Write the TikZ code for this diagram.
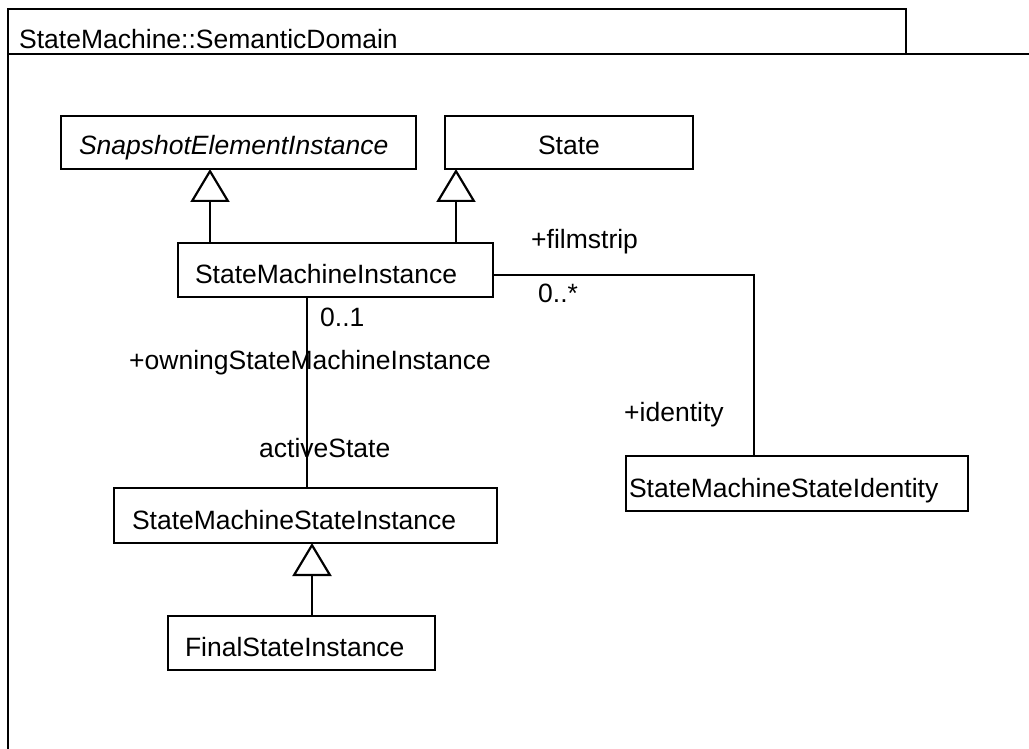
\documentclass[tikz,border=0pt]{standalone}
\usepackage{fontspec}
\setmainfont{Liberation Sans}
\usetikzlibrary{arrows.meta, positioning}
\newcommand{\umlfont}{\fontsize{26.5pt}{31pt}\selectfont}

\begin{document}
\begin{tikzpicture}[
    x=1pt, y=-1pt,
    umlbox/.style={draw, line width=2.8pt, outer sep=0pt, minimum height=54pt, inner xsep=17pt, inner ysep=0pt, text height=27pt, text depth=0pt, align=left, font=\umlfont},
    lbl/.style={anchor=base west, inner sep=0pt, font=\umlfont},
    frame/.style={line width=2.4pt},
    assoc/.style={line width=2.2pt},
    inherit/.style={line width=2.2pt, -{Triangle[open, length=33pt, width=39pt]}}
]
    \useasboundingbox (0,0) rectangle (1029,749);
    \clip (0,0) rectangle (1029,749);

    % Package frame
    \draw[frame] (8,54) rectangle (1060,780);
    \draw[frame] (8,9) rectangle (906,54);
    \node[lbl] (title) at (19,49) {StateMachine::SemanticDomain};

    % Classes - top row
    \node[umlbox, anchor=north west, inner xsep=18pt, text width=319pt, minimum height=53pt, text height=24pt] (snapshot) at (61,116) {\itshape SnapshotElementInstance};
    \node[umlbox, right=29pt of snapshot, inner xsep=0pt, text width=248pt, minimum height=53pt, text height=24pt, align=center] (state) {State};

    % Classes - middle and bottom
    \node[umlbox, below right=74pt and 117pt of snapshot.south west, text width=281pt] (smi) {StateMachineInstance};
    \node[umlbox, below left=191pt and 64pt of smi.south west, anchor=north west, inner xsep=18pt, text width=347pt, minimum height=55pt] (smsi) {StateMachineStateInstance};
    \node[umlbox, below right=73pt and 54pt of smsi.south west, text width=233pt] (final) {FinalStateInstance};
    \node[umlbox, below right=159pt and 133pt of smi.south east, inner xsep=3pt, text width=336pt, minimum height=55pt] (identity) {StateMachineStateIdentity};

    % Generalizations
    \draw[inherit] ([xshift=32pt]smi.north west) -- ([xshift=149pt]snapshot.south west);
    \draw[inherit] ([xshift=278pt]smi.north west) -- ([xshift=11pt]state.south west);
    \draw[inherit] ([xshift=144pt]final.north west) -- ([xshift=198pt]smsi.south west);

    % Associations
    \draw[assoc] ([xshift=129pt]smi.south west) -- ([xshift=193pt]smsi.north west);
    \draw[assoc] ([yshift=-5pt]smi.east) -| ([xshift=128pt]identity.north west);

    % Role names and multiplicities
    \node[lbl] (upperone) at (320,326) {0..1};
    \node[lbl] (owning) at (129,369) {+owningStateMachineInstance};
    \node[lbl] (active) at (259,457) {activeState};
    \node[lbl] (filmstrip) at (531,248) {+filmstrip};
    \node[lbl] (uppermany) at (538,302) {0..*};
    \node[lbl] (identitylbl) at (624,421) {+identity};
\end{tikzpicture}
\end{document}
